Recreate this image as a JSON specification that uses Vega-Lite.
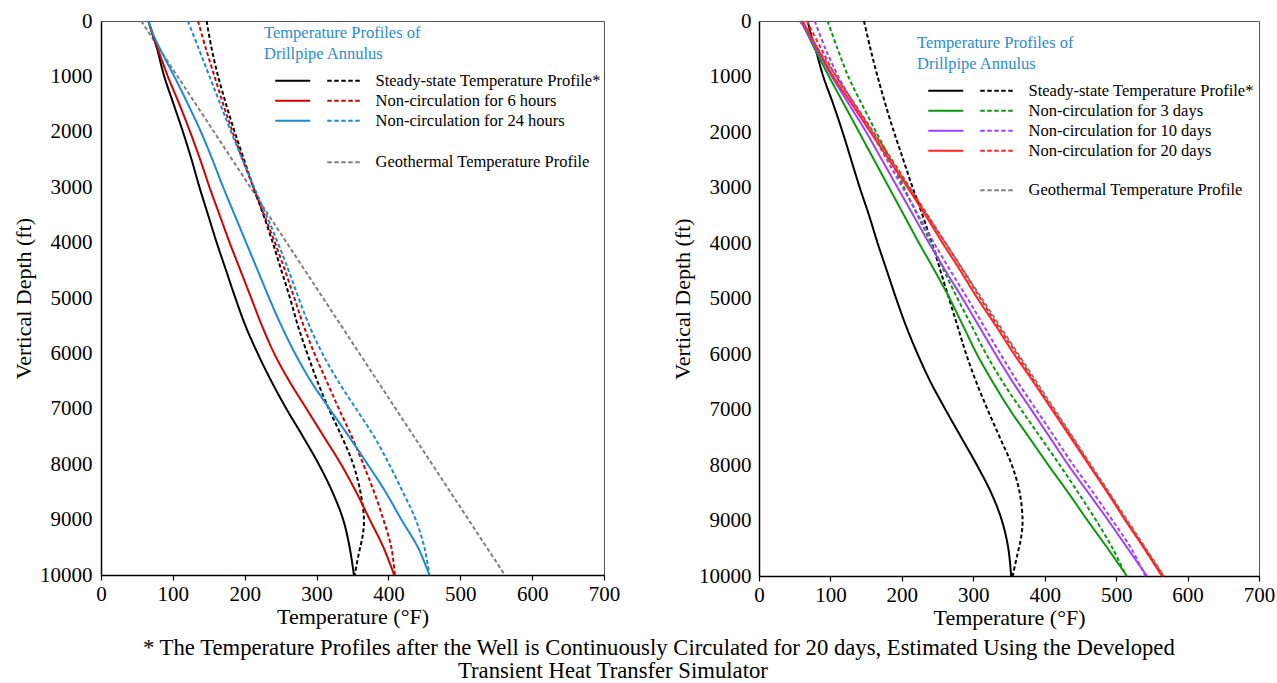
{
  "$schema": "https://vega.github.io/schema/vega-lite/v6.json",
  "padding": {"left": 12, "top": 9, "right": 5, "bottom": 0},
  "background": "white",
  "config": {
    "font": "Liberation Serif",
    "view": {"stroke": "#555", "strokeWidth": 1},
    "axis": {"labelFont": "Liberation Serif", "labelFontSize": 21, "labelColor": "black", "titleFont": "Liberation Serif", "titleFontSize": 22, "titleFontWeight": "normal", "titleColor": "black", "domainColor": "black", "domainWidth": 1.5, "grid": false, "tickColor": "black", "tickWidth": 1.2},
    "legend": {"labelFont": "Liberation Serif", "labelFontSize": 16.5, "labelColor": "black", "labelLimit": 0, "titleFont": "Liberation Serif", "titleFontSize": 16.5, "titleFontWeight": "normal", "titleColor": "#2b8cd0", "titleLineHeight": 21, "titleLimit": 0, "padding": 0, "symbolSize": 100, "symbolStrokeWidth": 2, "labelOffset": 95, "rowPadding": 3, "titlePadding": 10},
    "title": {"font": "Liberation Serif", "fontWeight": "normal", "color": "black"}
  },
  "title": {"text": "Transient Heat Transfer Simulator", "font": "Liberation Serif", "fontWeight": "normal", "color": "black", "orient": "bottom", "anchor": "start", "frame": "group", "dx": 357, "fontSize": 22.7, "offset": 0},
  "datasets": {
    "L": [
      {"series": "Steady-state Temperature Profile*", "conduit": "Drillpipe", "depth": 0, "temp": 66},
      {"series": "Steady-state Temperature Profile*", "conduit": "Drillpipe", "depth": 250, "temp": 72},
      {"series": "Steady-state Temperature Profile*", "conduit": "Drillpipe", "depth": 500, "temp": 78},
      {"series": "Steady-state Temperature Profile*", "conduit": "Drillpipe", "depth": 1000, "temp": 88},
      {"series": "Steady-state Temperature Profile*", "conduit": "Drillpipe", "depth": 1500, "temp": 101},
      {"series": "Steady-state Temperature Profile*", "conduit": "Drillpipe", "depth": 2000, "temp": 114},
      {"series": "Steady-state Temperature Profile*", "conduit": "Drillpipe", "depth": 2500, "temp": 126},
      {"series": "Steady-state Temperature Profile*", "conduit": "Drillpipe", "depth": 3000, "temp": 137},
      {"series": "Steady-state Temperature Profile*", "conduit": "Drillpipe", "depth": 3500, "temp": 149},
      {"series": "Steady-state Temperature Profile*", "conduit": "Drillpipe", "depth": 4000, "temp": 161},
      {"series": "Steady-state Temperature Profile*", "conduit": "Drillpipe", "depth": 4500, "temp": 174},
      {"series": "Steady-state Temperature Profile*", "conduit": "Drillpipe", "depth": 5000, "temp": 187},
      {"series": "Steady-state Temperature Profile*", "conduit": "Drillpipe", "depth": 5500, "temp": 201},
      {"series": "Steady-state Temperature Profile*", "conduit": "Drillpipe", "depth": 6000, "temp": 218},
      {"series": "Steady-state Temperature Profile*", "conduit": "Drillpipe", "depth": 6500, "temp": 237},
      {"series": "Steady-state Temperature Profile*", "conduit": "Drillpipe", "depth": 7000, "temp": 258},
      {"series": "Steady-state Temperature Profile*", "conduit": "Drillpipe", "depth": 7500, "temp": 281},
      {"series": "Steady-state Temperature Profile*", "conduit": "Drillpipe", "depth": 8000, "temp": 303},
      {"series": "Steady-state Temperature Profile*", "conduit": "Drillpipe", "depth": 8500, "temp": 322},
      {"series": "Steady-state Temperature Profile*", "conduit": "Drillpipe", "depth": 9000, "temp": 337},
      {"series": "Steady-state Temperature Profile*", "conduit": "Drillpipe", "depth": 9500, "temp": 346},
      {"series": "Steady-state Temperature Profile*", "conduit": "Drillpipe", "depth": 10000, "temp": 352},
      {"series": "Steady-state Temperature Profile*", "conduit": "Annulus", "depth": 0, "temp": 147},
      {"series": "Steady-state Temperature Profile*", "conduit": "Annulus", "depth": 500, "temp": 154},
      {"series": "Steady-state Temperature Profile*", "conduit": "Annulus", "depth": 1000, "temp": 163},
      {"series": "Steady-state Temperature Profile*", "conduit": "Annulus", "depth": 1500, "temp": 174},
      {"series": "Steady-state Temperature Profile*", "conduit": "Annulus", "depth": 2000, "temp": 186},
      {"series": "Steady-state Temperature Profile*", "conduit": "Annulus", "depth": 2500, "temp": 199},
      {"series": "Steady-state Temperature Profile*", "conduit": "Annulus", "depth": 3000, "temp": 212},
      {"series": "Steady-state Temperature Profile*", "conduit": "Annulus", "depth": 3500, "temp": 226},
      {"series": "Steady-state Temperature Profile*", "conduit": "Annulus", "depth": 4000, "temp": 239},
      {"series": "Steady-state Temperature Profile*", "conduit": "Annulus", "depth": 4500, "temp": 251},
      {"series": "Steady-state Temperature Profile*", "conduit": "Annulus", "depth": 5000, "temp": 263},
      {"series": "Steady-state Temperature Profile*", "conduit": "Annulus", "depth": 5500, "temp": 274},
      {"series": "Steady-state Temperature Profile*", "conduit": "Annulus", "depth": 6000, "temp": 287},
      {"series": "Steady-state Temperature Profile*", "conduit": "Annulus", "depth": 6500, "temp": 301},
      {"series": "Steady-state Temperature Profile*", "conduit": "Annulus", "depth": 7000, "temp": 317},
      {"series": "Steady-state Temperature Profile*", "conduit": "Annulus", "depth": 7500, "temp": 335},
      {"series": "Steady-state Temperature Profile*", "conduit": "Annulus", "depth": 8000, "temp": 351},
      {"series": "Steady-state Temperature Profile*", "conduit": "Annulus", "depth": 8500, "temp": 361},
      {"series": "Steady-state Temperature Profile*", "conduit": "Annulus", "depth": 9000, "temp": 366},
      {"series": "Steady-state Temperature Profile*", "conduit": "Annulus", "depth": 9300, "temp": 364},
      {"series": "Steady-state Temperature Profile*", "conduit": "Annulus", "depth": 9600, "temp": 359},
      {"series": "Steady-state Temperature Profile*", "conduit": "Annulus", "depth": 10000, "temp": 353},
      {"series": "Non-circulation for 6 hours", "conduit": "Drillpipe", "depth": 0, "temp": 66},
      {"series": "Non-circulation for 6 hours", "conduit": "Drillpipe", "depth": 250, "temp": 72},
      {"series": "Non-circulation for 6 hours", "conduit": "Drillpipe", "depth": 500, "temp": 79},
      {"series": "Non-circulation for 6 hours", "conduit": "Drillpipe", "depth": 1000, "temp": 93},
      {"series": "Non-circulation for 6 hours", "conduit": "Drillpipe", "depth": 1500, "temp": 109},
      {"series": "Non-circulation for 6 hours", "conduit": "Drillpipe", "depth": 2000, "temp": 124},
      {"series": "Non-circulation for 6 hours", "conduit": "Drillpipe", "depth": 2500, "temp": 138},
      {"series": "Non-circulation for 6 hours", "conduit": "Drillpipe", "depth": 3000, "temp": 151},
      {"series": "Non-circulation for 6 hours", "conduit": "Drillpipe", "depth": 3500, "temp": 165},
      {"series": "Non-circulation for 6 hours", "conduit": "Drillpipe", "depth": 4000, "temp": 179},
      {"series": "Non-circulation for 6 hours", "conduit": "Drillpipe", "depth": 4500, "temp": 194},
      {"series": "Non-circulation for 6 hours", "conduit": "Drillpipe", "depth": 5000, "temp": 209},
      {"series": "Non-circulation for 6 hours", "conduit": "Drillpipe", "depth": 5500, "temp": 224},
      {"series": "Non-circulation for 6 hours", "conduit": "Drillpipe", "depth": 6000, "temp": 241},
      {"series": "Non-circulation for 6 hours", "conduit": "Drillpipe", "depth": 6500, "temp": 262},
      {"series": "Non-circulation for 6 hours", "conduit": "Drillpipe", "depth": 7000, "temp": 286},
      {"series": "Non-circulation for 6 hours", "conduit": "Drillpipe", "depth": 7500, "temp": 310},
      {"series": "Non-circulation for 6 hours", "conduit": "Drillpipe", "depth": 8000, "temp": 334},
      {"series": "Non-circulation for 6 hours", "conduit": "Drillpipe", "depth": 8500, "temp": 355},
      {"series": "Non-circulation for 6 hours", "conduit": "Drillpipe", "depth": 9000, "temp": 374},
      {"series": "Non-circulation for 6 hours", "conduit": "Drillpipe", "depth": 9500, "temp": 393},
      {"series": "Non-circulation for 6 hours", "conduit": "Drillpipe", "depth": 10000, "temp": 408},
      {"series": "Non-circulation for 6 hours", "conduit": "Annulus", "depth": 0, "temp": 135},
      {"series": "Non-circulation for 6 hours", "conduit": "Annulus", "depth": 500, "temp": 146},
      {"series": "Non-circulation for 6 hours", "conduit": "Annulus", "depth": 1000, "temp": 158},
      {"series": "Non-circulation for 6 hours", "conduit": "Annulus", "depth": 1500, "temp": 170},
      {"series": "Non-circulation for 6 hours", "conduit": "Annulus", "depth": 2000, "temp": 183},
      {"series": "Non-circulation for 6 hours", "conduit": "Annulus", "depth": 2500, "temp": 197},
      {"series": "Non-circulation for 6 hours", "conduit": "Annulus", "depth": 3000, "temp": 212},
      {"series": "Non-circulation for 6 hours", "conduit": "Annulus", "depth": 3500, "temp": 227},
      {"series": "Non-circulation for 6 hours", "conduit": "Annulus", "depth": 4000, "temp": 242},
      {"series": "Non-circulation for 6 hours", "conduit": "Annulus", "depth": 4500, "temp": 256},
      {"series": "Non-circulation for 6 hours", "conduit": "Annulus", "depth": 5000, "temp": 269},
      {"series": "Non-circulation for 6 hours", "conduit": "Annulus", "depth": 5500, "temp": 282},
      {"series": "Non-circulation for 6 hours", "conduit": "Annulus", "depth": 6000, "temp": 297},
      {"series": "Non-circulation for 6 hours", "conduit": "Annulus", "depth": 6500, "temp": 314},
      {"series": "Non-circulation for 6 hours", "conduit": "Annulus", "depth": 7000, "temp": 331},
      {"series": "Non-circulation for 6 hours", "conduit": "Annulus", "depth": 7500, "temp": 349},
      {"series": "Non-circulation for 6 hours", "conduit": "Annulus", "depth": 8000, "temp": 365},
      {"series": "Non-circulation for 6 hours", "conduit": "Annulus", "depth": 8500, "temp": 380},
      {"series": "Non-circulation for 6 hours", "conduit": "Annulus", "depth": 9000, "temp": 393},
      {"series": "Non-circulation for 6 hours", "conduit": "Annulus", "depth": 9500, "temp": 404},
      {"series": "Non-circulation for 6 hours", "conduit": "Annulus", "depth": 10000, "temp": 409},
      {"series": "Non-circulation for 24 hours", "conduit": "Drillpipe", "depth": 0, "temp": 66},
      {"series": "Non-circulation for 24 hours", "conduit": "Drillpipe", "depth": 250, "temp": 73},
      {"series": "Non-circulation for 24 hours", "conduit": "Drillpipe", "depth": 500, "temp": 82},
      {"series": "Non-circulation for 24 hours", "conduit": "Drillpipe", "depth": 1000, "temp": 102},
      {"series": "Non-circulation for 24 hours", "conduit": "Drillpipe", "depth": 1500, "temp": 121},
      {"series": "Non-circulation for 24 hours", "conduit": "Drillpipe", "depth": 2000, "temp": 139},
      {"series": "Non-circulation for 24 hours", "conduit": "Drillpipe", "depth": 2500, "temp": 155},
      {"series": "Non-circulation for 24 hours", "conduit": "Drillpipe", "depth": 3000, "temp": 170},
      {"series": "Non-circulation for 24 hours", "conduit": "Drillpipe", "depth": 3500, "temp": 186},
      {"series": "Non-circulation for 24 hours", "conduit": "Drillpipe", "depth": 4000, "temp": 202},
      {"series": "Non-circulation for 24 hours", "conduit": "Drillpipe", "depth": 4500, "temp": 218},
      {"series": "Non-circulation for 24 hours", "conduit": "Drillpipe", "depth": 5000, "temp": 234},
      {"series": "Non-circulation for 24 hours", "conduit": "Drillpipe", "depth": 5500, "temp": 251},
      {"series": "Non-circulation for 24 hours", "conduit": "Drillpipe", "depth": 6000, "temp": 270},
      {"series": "Non-circulation for 24 hours", "conduit": "Drillpipe", "depth": 6500, "temp": 292},
      {"series": "Non-circulation for 24 hours", "conduit": "Drillpipe", "depth": 7000, "temp": 318},
      {"series": "Non-circulation for 24 hours", "conduit": "Drillpipe", "depth": 7500, "temp": 345},
      {"series": "Non-circulation for 24 hours", "conduit": "Drillpipe", "depth": 8000, "temp": 371},
      {"series": "Non-circulation for 24 hours", "conduit": "Drillpipe", "depth": 8500, "temp": 396},
      {"series": "Non-circulation for 24 hours", "conduit": "Drillpipe", "depth": 9000, "temp": 418},
      {"series": "Non-circulation for 24 hours", "conduit": "Drillpipe", "depth": 9500, "temp": 441},
      {"series": "Non-circulation for 24 hours", "conduit": "Drillpipe", "depth": 10000, "temp": 457},
      {"series": "Non-circulation for 24 hours", "conduit": "Annulus", "depth": 0, "temp": 121},
      {"series": "Non-circulation for 24 hours", "conduit": "Annulus", "depth": 500, "temp": 136},
      {"series": "Non-circulation for 24 hours", "conduit": "Annulus", "depth": 1000, "temp": 151},
      {"series": "Non-circulation for 24 hours", "conduit": "Annulus", "depth": 1500, "temp": 166},
      {"series": "Non-circulation for 24 hours", "conduit": "Annulus", "depth": 2000, "temp": 181},
      {"series": "Non-circulation for 24 hours", "conduit": "Annulus", "depth": 2500, "temp": 197},
      {"series": "Non-circulation for 24 hours", "conduit": "Annulus", "depth": 3000, "temp": 213},
      {"series": "Non-circulation for 24 hours", "conduit": "Annulus", "depth": 3500, "temp": 230},
      {"series": "Non-circulation for 24 hours", "conduit": "Annulus", "depth": 4000, "temp": 246},
      {"series": "Non-circulation for 24 hours", "conduit": "Annulus", "depth": 4500, "temp": 261},
      {"series": "Non-circulation for 24 hours", "conduit": "Annulus", "depth": 5000, "temp": 275},
      {"series": "Non-circulation for 24 hours", "conduit": "Annulus", "depth": 5500, "temp": 290},
      {"series": "Non-circulation for 24 hours", "conduit": "Annulus", "depth": 6000, "temp": 308},
      {"series": "Non-circulation for 24 hours", "conduit": "Annulus", "depth": 6500, "temp": 330},
      {"series": "Non-circulation for 24 hours", "conduit": "Annulus", "depth": 7000, "temp": 355},
      {"series": "Non-circulation for 24 hours", "conduit": "Annulus", "depth": 7500, "temp": 380},
      {"series": "Non-circulation for 24 hours", "conduit": "Annulus", "depth": 8000, "temp": 401},
      {"series": "Non-circulation for 24 hours", "conduit": "Annulus", "depth": 8500, "temp": 420},
      {"series": "Non-circulation for 24 hours", "conduit": "Annulus", "depth": 9000, "temp": 438},
      {"series": "Non-circulation for 24 hours", "conduit": "Annulus", "depth": 9500, "temp": 450},
      {"series": "Non-circulation for 24 hours", "conduit": "Annulus", "depth": 10000, "temp": 457}
    ],
    "LG": [
      {"series": "Geothermal Temperature Profile", "depth": 0, "temp": 56},
      {"series": "Geothermal Temperature Profile", "depth": 10000, "temp": 562}
    ],
    "R": [
      {"series": "Steady-state Temperature Profile*", "conduit": "Drillpipe", "depth": 0, "temp": 68},
      {"series": "Steady-state Temperature Profile*", "conduit": "Drillpipe", "depth": 250, "temp": 73},
      {"series": "Steady-state Temperature Profile*", "conduit": "Drillpipe", "depth": 500, "temp": 79},
      {"series": "Steady-state Temperature Profile*", "conduit": "Drillpipe", "depth": 1000, "temp": 90},
      {"series": "Steady-state Temperature Profile*", "conduit": "Drillpipe", "depth": 1500, "temp": 104},
      {"series": "Steady-state Temperature Profile*", "conduit": "Drillpipe", "depth": 2000, "temp": 117},
      {"series": "Steady-state Temperature Profile*", "conduit": "Drillpipe", "depth": 2500, "temp": 129},
      {"series": "Steady-state Temperature Profile*", "conduit": "Drillpipe", "depth": 3000, "temp": 141},
      {"series": "Steady-state Temperature Profile*", "conduit": "Drillpipe", "depth": 3500, "temp": 154},
      {"series": "Steady-state Temperature Profile*", "conduit": "Drillpipe", "depth": 4000, "temp": 166},
      {"series": "Steady-state Temperature Profile*", "conduit": "Drillpipe", "depth": 4500, "temp": 179},
      {"series": "Steady-state Temperature Profile*", "conduit": "Drillpipe", "depth": 5000, "temp": 192},
      {"series": "Steady-state Temperature Profile*", "conduit": "Drillpipe", "depth": 5500, "temp": 206},
      {"series": "Steady-state Temperature Profile*", "conduit": "Drillpipe", "depth": 6000, "temp": 222},
      {"series": "Steady-state Temperature Profile*", "conduit": "Drillpipe", "depth": 6500, "temp": 240},
      {"series": "Steady-state Temperature Profile*", "conduit": "Drillpipe", "depth": 7000, "temp": 261},
      {"series": "Steady-state Temperature Profile*", "conduit": "Drillpipe", "depth": 7500, "temp": 283},
      {"series": "Steady-state Temperature Profile*", "conduit": "Drillpipe", "depth": 8000, "temp": 305},
      {"series": "Steady-state Temperature Profile*", "conduit": "Drillpipe", "depth": 8500, "temp": 325},
      {"series": "Steady-state Temperature Profile*", "conduit": "Drillpipe", "depth": 9000, "temp": 340},
      {"series": "Steady-state Temperature Profile*", "conduit": "Drillpipe", "depth": 9500, "temp": 349},
      {"series": "Steady-state Temperature Profile*", "conduit": "Drillpipe", "depth": 10000, "temp": 353},
      {"series": "Steady-state Temperature Profile*", "conduit": "Annulus", "depth": 0, "temp": 147},
      {"series": "Steady-state Temperature Profile*", "conduit": "Annulus", "depth": 500, "temp": 156},
      {"series": "Steady-state Temperature Profile*", "conduit": "Annulus", "depth": 1000, "temp": 166},
      {"series": "Steady-state Temperature Profile*", "conduit": "Annulus", "depth": 1500, "temp": 177},
      {"series": "Steady-state Temperature Profile*", "conduit": "Annulus", "depth": 2000, "temp": 189},
      {"series": "Steady-state Temperature Profile*", "conduit": "Annulus", "depth": 2500, "temp": 202},
      {"series": "Steady-state Temperature Profile*", "conduit": "Annulus", "depth": 3000, "temp": 215},
      {"series": "Steady-state Temperature Profile*", "conduit": "Annulus", "depth": 3500, "temp": 229},
      {"series": "Steady-state Temperature Profile*", "conduit": "Annulus", "depth": 4000, "temp": 242},
      {"series": "Steady-state Temperature Profile*", "conduit": "Annulus", "depth": 4500, "temp": 254},
      {"series": "Steady-state Temperature Profile*", "conduit": "Annulus", "depth": 5000, "temp": 266},
      {"series": "Steady-state Temperature Profile*", "conduit": "Annulus", "depth": 5500, "temp": 278},
      {"series": "Steady-state Temperature Profile*", "conduit": "Annulus", "depth": 6000, "temp": 290},
      {"series": "Steady-state Temperature Profile*", "conduit": "Annulus", "depth": 6500, "temp": 304},
      {"series": "Steady-state Temperature Profile*", "conduit": "Annulus", "depth": 7000, "temp": 320},
      {"series": "Steady-state Temperature Profile*", "conduit": "Annulus", "depth": 7500, "temp": 337},
      {"series": "Steady-state Temperature Profile*", "conduit": "Annulus", "depth": 8000, "temp": 354},
      {"series": "Steady-state Temperature Profile*", "conduit": "Annulus", "depth": 8500, "temp": 365},
      {"series": "Steady-state Temperature Profile*", "conduit": "Annulus", "depth": 9000, "temp": 369},
      {"series": "Steady-state Temperature Profile*", "conduit": "Annulus", "depth": 9300, "temp": 367},
      {"series": "Steady-state Temperature Profile*", "conduit": "Annulus", "depth": 9600, "temp": 362},
      {"series": "Steady-state Temperature Profile*", "conduit": "Annulus", "depth": 10000, "temp": 355},
      {"series": "Non-circulation for 3 days", "conduit": "Drillpipe", "depth": 0, "temp": 59},
      {"series": "Non-circulation for 3 days", "conduit": "Drillpipe", "depth": 500, "temp": 78},
      {"series": "Non-circulation for 3 days", "conduit": "Drillpipe", "depth": 1000, "temp": 98},
      {"series": "Non-circulation for 3 days", "conduit": "Drillpipe", "depth": 1500, "temp": 119},
      {"series": "Non-circulation for 3 days", "conduit": "Drillpipe", "depth": 2000, "temp": 140},
      {"series": "Non-circulation for 3 days", "conduit": "Drillpipe", "depth": 2500, "temp": 161},
      {"series": "Non-circulation for 3 days", "conduit": "Drillpipe", "depth": 3000, "temp": 182},
      {"series": "Non-circulation for 3 days", "conduit": "Drillpipe", "depth": 3500, "temp": 203},
      {"series": "Non-circulation for 3 days", "conduit": "Drillpipe", "depth": 4000, "temp": 224},
      {"series": "Non-circulation for 3 days", "conduit": "Drillpipe", "depth": 4500, "temp": 246},
      {"series": "Non-circulation for 3 days", "conduit": "Drillpipe", "depth": 5000, "temp": 267},
      {"series": "Non-circulation for 3 days", "conduit": "Drillpipe", "depth": 5500, "temp": 286},
      {"series": "Non-circulation for 3 days", "conduit": "Drillpipe", "depth": 6000, "temp": 305},
      {"series": "Non-circulation for 3 days", "conduit": "Drillpipe", "depth": 6500, "temp": 327},
      {"series": "Non-circulation for 3 days", "conduit": "Drillpipe", "depth": 7000, "temp": 351},
      {"series": "Non-circulation for 3 days", "conduit": "Drillpipe", "depth": 7500, "temp": 378},
      {"series": "Non-circulation for 3 days", "conduit": "Drillpipe", "depth": 8000, "temp": 405},
      {"series": "Non-circulation for 3 days", "conduit": "Drillpipe", "depth": 8500, "temp": 433},
      {"series": "Non-circulation for 3 days", "conduit": "Drillpipe", "depth": 9000, "temp": 460},
      {"series": "Non-circulation for 3 days", "conduit": "Drillpipe", "depth": 9500, "temp": 488},
      {"series": "Non-circulation for 3 days", "conduit": "Drillpipe", "depth": 10000, "temp": 515},
      {"series": "Non-circulation for 3 days", "conduit": "Annulus", "depth": 0, "temp": 96},
      {"series": "Non-circulation for 3 days", "conduit": "Annulus", "depth": 500, "temp": 110},
      {"series": "Non-circulation for 3 days", "conduit": "Annulus", "depth": 1000, "temp": 125},
      {"series": "Non-circulation for 3 days", "conduit": "Annulus", "depth": 1500, "temp": 144},
      {"series": "Non-circulation for 3 days", "conduit": "Annulus", "depth": 2000, "temp": 164},
      {"series": "Non-circulation for 3 days", "conduit": "Annulus", "depth": 2500, "temp": 184},
      {"series": "Non-circulation for 3 days", "conduit": "Annulus", "depth": 3000, "temp": 203},
      {"series": "Non-circulation for 3 days", "conduit": "Annulus", "depth": 3500, "temp": 222},
      {"series": "Non-circulation for 3 days", "conduit": "Annulus", "depth": 4000, "temp": 241},
      {"series": "Non-circulation for 3 days", "conduit": "Annulus", "depth": 4500, "temp": 259},
      {"series": "Non-circulation for 3 days", "conduit": "Annulus", "depth": 5000, "temp": 278},
      {"series": "Non-circulation for 3 days", "conduit": "Annulus", "depth": 5500, "temp": 298},
      {"series": "Non-circulation for 3 days", "conduit": "Annulus", "depth": 6000, "temp": 318},
      {"series": "Non-circulation for 3 days", "conduit": "Annulus", "depth": 6500, "temp": 341},
      {"series": "Non-circulation for 3 days", "conduit": "Annulus", "depth": 7000, "temp": 367},
      {"series": "Non-circulation for 3 days", "conduit": "Annulus", "depth": 7500, "temp": 394},
      {"series": "Non-circulation for 3 days", "conduit": "Annulus", "depth": 8000, "temp": 421},
      {"series": "Non-circulation for 3 days", "conduit": "Annulus", "depth": 8500, "temp": 447},
      {"series": "Non-circulation for 3 days", "conduit": "Annulus", "depth": 9000, "temp": 472},
      {"series": "Non-circulation for 3 days", "conduit": "Annulus", "depth": 9500, "temp": 495},
      {"series": "Non-circulation for 3 days", "conduit": "Annulus", "depth": 10000, "temp": 514},
      {"series": "Non-circulation for 10 days", "conduit": "Drillpipe", "depth": 0, "temp": 59},
      {"series": "Non-circulation for 10 days", "conduit": "Drillpipe", "depth": 500, "temp": 80},
      {"series": "Non-circulation for 10 days", "conduit": "Drillpipe", "depth": 1000, "temp": 102},
      {"series": "Non-circulation for 10 days", "conduit": "Drillpipe", "depth": 1500, "temp": 126},
      {"series": "Non-circulation for 10 days", "conduit": "Drillpipe", "depth": 2000, "temp": 150},
      {"series": "Non-circulation for 10 days", "conduit": "Drillpipe", "depth": 2500, "temp": 172},
      {"series": "Non-circulation for 10 days", "conduit": "Drillpipe", "depth": 3000, "temp": 194},
      {"series": "Non-circulation for 10 days", "conduit": "Drillpipe", "depth": 3500, "temp": 216},
      {"series": "Non-circulation for 10 days", "conduit": "Drillpipe", "depth": 4000, "temp": 238},
      {"series": "Non-circulation for 10 days", "conduit": "Drillpipe", "depth": 4500, "temp": 261},
      {"series": "Non-circulation for 10 days", "conduit": "Drillpipe", "depth": 5000, "temp": 285},
      {"series": "Non-circulation for 10 days", "conduit": "Drillpipe", "depth": 5500, "temp": 308},
      {"series": "Non-circulation for 10 days", "conduit": "Drillpipe", "depth": 6000, "temp": 331},
      {"series": "Non-circulation for 10 days", "conduit": "Drillpipe", "depth": 6500, "temp": 355},
      {"series": "Non-circulation for 10 days", "conduit": "Drillpipe", "depth": 7000, "temp": 381},
      {"series": "Non-circulation for 10 days", "conduit": "Drillpipe", "depth": 7500, "temp": 407},
      {"series": "Non-circulation for 10 days", "conduit": "Drillpipe", "depth": 8000, "temp": 433},
      {"series": "Non-circulation for 10 days", "conduit": "Drillpipe", "depth": 8500, "temp": 461},
      {"series": "Non-circulation for 10 days", "conduit": "Drillpipe", "depth": 9000, "temp": 489},
      {"series": "Non-circulation for 10 days", "conduit": "Drillpipe", "depth": 9500, "temp": 516},
      {"series": "Non-circulation for 10 days", "conduit": "Drillpipe", "depth": 10000, "temp": 543},
      {"series": "Non-circulation for 10 days", "conduit": "Annulus", "depth": 0, "temp": 78},
      {"series": "Non-circulation for 10 days", "conduit": "Annulus", "depth": 500, "temp": 93},
      {"series": "Non-circulation for 10 days", "conduit": "Annulus", "depth": 1000, "temp": 111},
      {"series": "Non-circulation for 10 days", "conduit": "Annulus", "depth": 1500, "temp": 133},
      {"series": "Non-circulation for 10 days", "conduit": "Annulus", "depth": 2000, "temp": 157},
      {"series": "Non-circulation for 10 days", "conduit": "Annulus", "depth": 2500, "temp": 179},
      {"series": "Non-circulation for 10 days", "conduit": "Annulus", "depth": 3000, "temp": 201},
      {"series": "Non-circulation for 10 days", "conduit": "Annulus", "depth": 3500, "temp": 223},
      {"series": "Non-circulation for 10 days", "conduit": "Annulus", "depth": 4000, "temp": 245},
      {"series": "Non-circulation for 10 days", "conduit": "Annulus", "depth": 4500, "temp": 268},
      {"series": "Non-circulation for 10 days", "conduit": "Annulus", "depth": 5000, "temp": 292},
      {"series": "Non-circulation for 10 days", "conduit": "Annulus", "depth": 5500, "temp": 315},
      {"series": "Non-circulation for 10 days", "conduit": "Annulus", "depth": 6000, "temp": 338},
      {"series": "Non-circulation for 10 days", "conduit": "Annulus", "depth": 6500, "temp": 362},
      {"series": "Non-circulation for 10 days", "conduit": "Annulus", "depth": 7000, "temp": 388},
      {"series": "Non-circulation for 10 days", "conduit": "Annulus", "depth": 7500, "temp": 414},
      {"series": "Non-circulation for 10 days", "conduit": "Annulus", "depth": 8000, "temp": 440},
      {"series": "Non-circulation for 10 days", "conduit": "Annulus", "depth": 8500, "temp": 468},
      {"series": "Non-circulation for 10 days", "conduit": "Annulus", "depth": 9000, "temp": 495},
      {"series": "Non-circulation for 10 days", "conduit": "Annulus", "depth": 9500, "temp": 521},
      {"series": "Non-circulation for 10 days", "conduit": "Annulus", "depth": 10000, "temp": 541},
      {"series": "Non-circulation for 20 days", "conduit": "Drillpipe", "depth": 0, "temp": 61},
      {"series": "Non-circulation for 20 days", "conduit": "Drillpipe", "depth": 500, "temp": 82},
      {"series": "Non-circulation for 20 days", "conduit": "Drillpipe", "depth": 1000, "temp": 104},
      {"series": "Non-circulation for 20 days", "conduit": "Drillpipe", "depth": 1500, "temp": 130},
      {"series": "Non-circulation for 20 days", "conduit": "Drillpipe", "depth": 2000, "temp": 156},
      {"series": "Non-circulation for 20 days", "conduit": "Drillpipe", "depth": 2500, "temp": 182},
      {"series": "Non-circulation for 20 days", "conduit": "Drillpipe", "depth": 3000, "temp": 208},
      {"series": "Non-circulation for 20 days", "conduit": "Drillpipe", "depth": 3500, "temp": 233},
      {"series": "Non-circulation for 20 days", "conduit": "Drillpipe", "depth": 4000, "temp": 257},
      {"series": "Non-circulation for 20 days", "conduit": "Drillpipe", "depth": 4500, "temp": 282},
      {"series": "Non-circulation for 20 days", "conduit": "Drillpipe", "depth": 5000, "temp": 306},
      {"series": "Non-circulation for 20 days", "conduit": "Drillpipe", "depth": 5500, "temp": 332},
      {"series": "Non-circulation for 20 days", "conduit": "Drillpipe", "depth": 6000, "temp": 357},
      {"series": "Non-circulation for 20 days", "conduit": "Drillpipe", "depth": 6500, "temp": 384},
      {"series": "Non-circulation for 20 days", "conduit": "Drillpipe", "depth": 7000, "temp": 410},
      {"series": "Non-circulation for 20 days", "conduit": "Drillpipe", "depth": 7500, "temp": 436},
      {"series": "Non-circulation for 20 days", "conduit": "Drillpipe", "depth": 8000, "temp": 462},
      {"series": "Non-circulation for 20 days", "conduit": "Drillpipe", "depth": 8500, "temp": 488},
      {"series": "Non-circulation for 20 days", "conduit": "Drillpipe", "depth": 9000, "temp": 513},
      {"series": "Non-circulation for 20 days", "conduit": "Drillpipe", "depth": 9500, "temp": 539},
      {"series": "Non-circulation for 20 days", "conduit": "Drillpipe", "depth": 10000, "temp": 564},
      {"series": "Non-circulation for 20 days", "conduit": "Annulus", "depth": 0, "temp": 67},
      {"series": "Non-circulation for 20 days", "conduit": "Annulus", "depth": 500, "temp": 87},
      {"series": "Non-circulation for 20 days", "conduit": "Annulus", "depth": 1000, "temp": 108},
      {"series": "Non-circulation for 20 days", "conduit": "Annulus", "depth": 1500, "temp": 134},
      {"series": "Non-circulation for 20 days", "conduit": "Annulus", "depth": 2000, "temp": 160},
      {"series": "Non-circulation for 20 days", "conduit": "Annulus", "depth": 2500, "temp": 186},
      {"series": "Non-circulation for 20 days", "conduit": "Annulus", "depth": 3000, "temp": 211},
      {"series": "Non-circulation for 20 days", "conduit": "Annulus", "depth": 3500, "temp": 236},
      {"series": "Non-circulation for 20 days", "conduit": "Annulus", "depth": 4000, "temp": 261},
      {"series": "Non-circulation for 20 days", "conduit": "Annulus", "depth": 4500, "temp": 286},
      {"series": "Non-circulation for 20 days", "conduit": "Annulus", "depth": 5000, "temp": 310},
      {"series": "Non-circulation for 20 days", "conduit": "Annulus", "depth": 5500, "temp": 335},
      {"series": "Non-circulation for 20 days", "conduit": "Annulus", "depth": 6000, "temp": 361},
      {"series": "Non-circulation for 20 days", "conduit": "Annulus", "depth": 6500, "temp": 386},
      {"series": "Non-circulation for 20 days", "conduit": "Annulus", "depth": 7000, "temp": 412},
      {"series": "Non-circulation for 20 days", "conduit": "Annulus", "depth": 7500, "temp": 438},
      {"series": "Non-circulation for 20 days", "conduit": "Annulus", "depth": 8000, "temp": 463},
      {"series": "Non-circulation for 20 days", "conduit": "Annulus", "depth": 8500, "temp": 489},
      {"series": "Non-circulation for 20 days", "conduit": "Annulus", "depth": 9000, "temp": 514},
      {"series": "Non-circulation for 20 days", "conduit": "Annulus", "depth": 9500, "temp": 540},
      {"series": "Non-circulation for 20 days", "conduit": "Annulus", "depth": 10000, "temp": 566}
    ],
    "RG": [
      {"series": "Geothermal Temperature Profile", "depth": 0, "temp": 57},
      {"series": "Geothermal Temperature Profile", "depth": 10000, "temp": 567}
    ]
  },
  "hconcat": [
    {
      "width": 503,
      "height": 554,
      "title": {"text": "* The Temperature Profiles after the Well is Continuously Circulated for 20 days, Estimated Using the Developed", "orient": "bottom", "anchor": "start", "frame": "group", "dx": 42, "offset": 10, "font": "Liberation Serif", "fontSize": 22.7, "fontWeight": "normal", "color": "black"},
      "layer": [
        {
          "data": {"name": "LG"},
          "mark": {"type": "line", "strokeWidth": 2, "strokeDash": [4, 2.5]},
          "encoding": {
            "x": {"field": "temp", "type": "quantitative", "scale": {"domain": [0, 700], "nice": false}, "axis": {"title": "Temperature (°F)", "labelFont": "Liberation Serif", "titleFont": "Liberation Serif", "labelFontSize": 21, "titleFontSize": 22, "titleFontWeight": "normal", "values": [0, 50, 100, 150, 200, 250, 300, 350, 400, 450, 500, 550, 600, 650, 700], "labelExpr": "datum.value % 100 === 0 ? datum.label : ''", "tickSize": 5, "labelPadding": 3, "labelFlush": false, "labelOverlap": false, "titlePadding": 2}},
            "y": {"field": "depth", "type": "quantitative", "scale": {"domain": [0, 10000], "nice": false, "reverse": true}, "axis": {"title": "Vertical Depth (ft)", "labelFont": "Liberation Serif", "titleFont": "Liberation Serif", "labelFontSize": 21, "titleFontSize": 22, "titleFontWeight": "normal", "values": [0, 1000, 2000, 3000, 4000, 5000, 6000, 7000, 8000, 9000, 10000], "format": "d", "ticks": false, "labelPadding": 9, "labelFlush": false, "labelOverlap": false, "titlePadding": 4}},
            "order": {"field": "depth", "type": "quantitative"},
            "color": {"field": "series", "type": "nominal", "scale": {"domain": ["Geothermal Temperature Profile"], "range": ["#808080"]}, "legend": {"title": null, "orient": "none", "legendX": 163, "legendY": 133, "symbolType": "M11,0H11.9M12.4,0H13.3M13.8,0H14.7M15.2,0H16.1M16.6,0H17.5"}}
          }
        },
        {
          "data": {"name": "L"},
          "mark": {"type": "line", "strokeWidth": 2, "interpolate": "catmull-rom"},
          "encoding": {
            "x": {"field": "temp", "type": "quantitative"},
            "y": {"field": "depth", "type": "quantitative"},
            "order": {"field": "depth", "type": "quantitative"},
            "color": {"field": "series", "type": "nominal", "scale": {"domain": ["Steady-state Temperature Profile*", "Non-circulation for 6 hours", "Non-circulation for 24 hours"], "range": ["#000000", "#d40000", "#1b8ad3"]}, "legend": {"title": ["Temperature Profiles of", "Drillpipe Annulus"], "orient": "none", "legendX": 163, "legendY": 4, "symbolType": "M0.6,0H7.6M11,0H11.9M12.4,0H13.3M13.8,0H14.7M15.2,0H16.1M16.6,0H17.5"}},
            "strokeDash": {"field": "conduit", "type": "nominal", "scale": {"domain": ["Drillpipe", "Annulus"], "range": [[1, 0], [4, 2.5]]}, "legend": null}
          }
        }
      ],
      "resolve": {"scale": {"color": "independent"}}
    },
    {
      "width": 500,
      "height": 555,
      "layer": [
        {
          "data": {"name": "RG"},
          "mark": {"type": "line", "strokeWidth": 2, "strokeDash": [4, 2.5]},
          "encoding": {
            "x": {"field": "temp", "type": "quantitative", "scale": {"domain": [0, 700], "nice": false}, "axis": {"title": "Temperature (°F)", "labelFont": "Liberation Serif", "titleFont": "Liberation Serif", "labelFontSize": 21, "titleFontSize": 22, "titleFontWeight": "normal", "values": [0, 50, 100, 150, 200, 250, 300, 350, 400, 450, 500, 550, 600, 650, 700], "labelExpr": "datum.value % 100 === 0 ? datum.label : ''", "tickSize": 5, "labelPadding": 3, "labelFlush": false, "labelOverlap": false, "titlePadding": 2}},
            "y": {"field": "depth", "type": "quantitative", "scale": {"domain": [0, 10000], "nice": false, "reverse": true}, "axis": {"title": "Vertical Depth (ft)", "labelFont": "Liberation Serif", "titleFont": "Liberation Serif", "labelFontSize": 21, "titleFontSize": 22, "titleFontWeight": "normal", "values": [0, 1000, 2000, 3000, 4000, 5000, 6000, 7000, 8000, 9000, 10000], "format": "d", "ticks": false, "labelPadding": 8, "labelFlush": false, "labelOverlap": false, "titlePadding": 4}},
            "order": {"field": "depth", "type": "quantitative"},
            "color": {"field": "series", "type": "nominal", "scale": {"domain": ["Geothermal Temperature Profile"], "range": ["#808080"]}, "legend": {"title": null, "orient": "none", "legendX": 158, "legendY": 161, "symbolType": "M11,0H11.9M12.4,0H13.3M13.8,0H14.7M15.2,0H16.1M16.6,0H17.5"}}
          }
        },
        {
          "data": {"name": "R"},
          "mark": {"type": "line", "strokeWidth": 2, "interpolate": "catmull-rom"},
          "encoding": {
            "x": {"field": "temp", "type": "quantitative"},
            "y": {"field": "depth", "type": "quantitative"},
            "order": {"field": "depth", "type": "quantitative"},
            "color": {"field": "series", "type": "nominal", "scale": {"domain": ["Steady-state Temperature Profile*", "Non-circulation for 3 days", "Non-circulation for 10 days", "Non-circulation for 20 days"], "range": ["#000000", "#0a990a", "#a040ff", "#ff2424"]}, "legend": {"title": ["Temperature Profiles of", "Drillpipe Annulus"], "orient": "none", "legendX": 158, "legendY": 14, "symbolType": "M0.6,0H7.6M11,0H11.9M12.4,0H13.3M13.8,0H14.7M15.2,0H16.1M16.6,0H17.5"}},
            "strokeDash": {"field": "conduit", "type": "nominal", "scale": {"domain": ["Drillpipe", "Annulus"], "range": [[1, 0], [4, 2.5]]}, "legend": null}
          }
        }
      ],
      "resolve": {"scale": {"color": "independent"}}
    }
  ],
  "bounds": "flush",
  "spacing": 155,
  "resolve": {"scale": {"color": "independent", "strokeDash": "independent"}}
}
